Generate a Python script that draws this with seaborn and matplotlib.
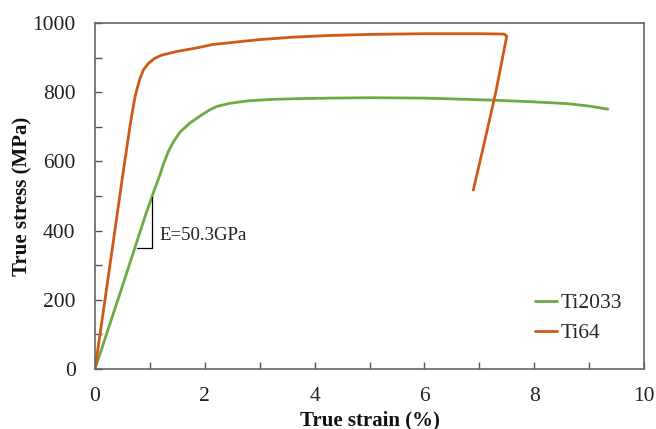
import matplotlib
matplotlib.use("Agg")
import matplotlib.pyplot as plt
import seaborn as sns
from matplotlib.ticker import MultipleLocator

sns.set_theme(style="white")
plt.rcParams['font.family'] = ['Liberation Serif', 'DejaVu Serif']

# Ti64 curve (strain %, stress MPa)
ti64_strain = [0.0, 0.2, 0.39, 0.5, 0.58, 0.64, 0.69, 0.73, 0.78, 0.82, 0.88, 0.97, 1.08, 1.21, 1.5, 1.82, 2.15, 3.0, 3.6, 4.28, 5.0, 6.0, 7.0, 7.45, 7.5, 7.3, 7.1, 6.89]
ti64_stress = [0.0, 220, 431, 555, 640, 705, 752, 787, 818, 840, 864, 883, 897, 907, 918, 927, 938, 952, 959, 964, 967, 969, 969, 968, 962, 800, 660, 517]

# Ti2033 curve
ti2033_strain = [0.0, 0.5, 0.91, 1.06, 1.18, 1.25, 1.34, 1.43, 1.55, 1.73, 1.95, 2.1, 2.22, 2.46, 2.79, 3.2, 3.6, 4.28, 5.0, 6.0, 7.25, 8.0, 8.6, 9.0, 9.34]
ti2033_stress = [0.0, 240, 440, 508, 560, 594, 630, 657, 685, 711, 735, 750, 759, 768, 775, 779, 781, 783, 784, 783, 777, 772, 767, 760, 751]

# Modulus triangle
tri_x = [0.76, 1.04, 1.04]
tri_y = [350, 350, 497]

green = '#6DAA44'
orange = '#CF5A17'

fig = plt.figure(figsize=(6.56, 4.29), dpi=100)
ax = fig.add_axes([95/656, 60/429, 549/656, 346/429])

sns.lineplot(x=ti2033_strain, y=ti2033_stress, sort=False, estimator=None,
             color=green, linewidth=2, ax=ax, label='Ti2033')
sns.lineplot(x=ti64_strain, y=ti64_stress, sort=False, estimator=None,
             color=orange, linewidth=2, ax=ax, label='Ti64')

ax.plot(tri_x, tri_y, color='black', linewidth=0.9)
ax.text(1.18, 387, 'E=50.3GPa', fontsize=13.5, va='center', ha='left', color='#222222')

ax.set_xlim(0, 10)
ax.set_ylim(0, 1000)
ax.xaxis.set_major_locator(MultipleLocator(2))
ax.xaxis.set_minor_locator(MultipleLocator(1))
ax.yaxis.set_major_locator(MultipleLocator(200))
ax.yaxis.set_minor_locator(MultipleLocator(100))
ax.tick_params(which='both', direction='in', length=5, width=1, color='#555555',
               labelsize=15.5, labelcolor='#222222', bottom=True, left=True, top=False, right=False)
ax.tick_params(axis='x', pad=13)
ax.tick_params(axis='y', pad=14)
for s in ax.spines.values():
    s.set_color('#666666')
    s.set_linewidth(1.2)

ax.set_xlabel('True strain (%)', fontsize=15, fontweight='bold', color='#111111', labelpad=3)
ax.set_ylabel('True stress (MPa)', fontsize=15, fontweight='bold', color='#111111', labelpad=0)

leg = ax.legend(loc='lower right', bbox_to_anchor=(0.975, 0.05), frameon=False, fontsize=15.5,
                handlelength=1.0, handletextpad=0.15, labelspacing=0.45, borderaxespad=0)
for line in leg.get_lines():
    line.set_linewidth(2)

fig.savefig('out.png', dpi=100)
